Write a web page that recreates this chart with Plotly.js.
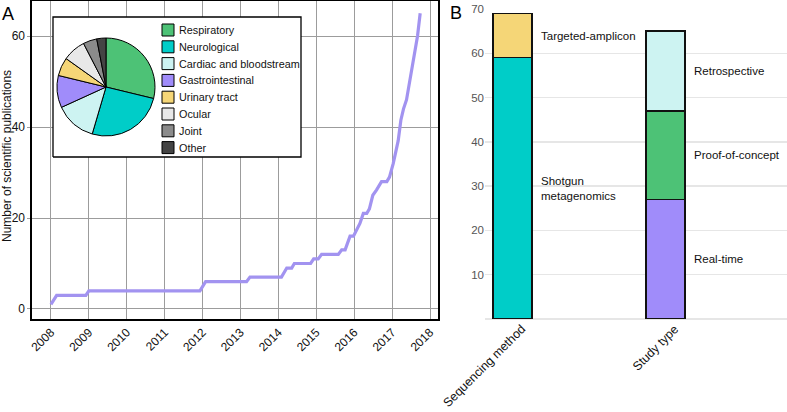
<!DOCTYPE html>
<html><head><meta charset="utf-8">
<script src="https://cdn.plot.ly/plotly-3.0.1.min.js"></script>
<style>html,body{margin:0;padding:0;background:#fff}#chart{width:787px;height:412px}</style>
</head><body><div id="chart"></div>
<script>
// ---- Panel A: cumulative publications ----
const pubYears  = [2008.0, 2008.15, 2008.92, 2009.0, 2011.93, 2012.08, 2013.16, 2013.25, 2014.08, 2014.22, 2014.35, 2014.42, 2014.85, 2014.93, 2015.05, 2015.14, 2015.58, 2015.67, 2015.76, 2015.89, 2015.98, 2016.07, 2016.15, 2016.24, 2016.33, 2016.40, 2016.49, 2016.59, 2016.72, 2016.86, 2016.93, 2017.03, 2017.16, 2017.23, 2017.30, 2017.38, 2017.52, 2017.60, 2017.67, 2017.74];
const pubCounts = [1, 3, 3, 4, 4, 6, 6, 7, 7, 9, 9, 10, 10, 11, 11, 12, 12, 13, 13, 16, 16, 17.7, 18.8, 21, 21, 22, 25, 26.2, 28, 28, 29, 32, 37, 41.5, 44, 46, 53, 57, 60, 65];
const yearTicks = [2008, 2009, 2010, 2011, 2012, 2013, 2014, 2015, 2016, 2017, 2018];
const countTicks = [0, 20, 40, 60];

// ---- Panel A inset pie ----
const pieLabels = ['Respiratory', 'Neurological', 'Cardiac and bloodstream', 'Gastrointestinal', 'Urinary tract', 'Ocular', 'Joint', 'Other'];
const pieValues = [19, 17, 9, 7, 4, 5, 3, 2];
const pieColors = ['#4dc276', '#00cdc8', '#cdf3f2', '#a08cfa', '#f5d677', '#e8e8e8', '#8b8b8b', '#444444'];

// ---- Panel B: stacked bars ----
const barCategories = ['Sequencing method', 'Study type'];
const seqLabels = ['Shotgun<br>metagenomics', 'Targeted-amplicon'];
const seqValues = [59, 10];
const seqColors = ['#00cdc8', '#f5d677'];
const studyLabels = ['Real-time', 'Proof-of-concept', 'Retrospective'];
const studyValues = [27, 20, 18];
const studyColors = ['#a08cfa', '#4dc276', '#cdf3f2'];
const barTicks = [10, 20, 30, 40, 50, 60, 70];

const W = 787, H = 412;
const px = v => v / W;
const py = v => 1 - v / H;
const FONT = 'Liberation Sans, Arial, Helvetica, sans-serif';

// panel A axis geometry (pixels) and ranges
const AX = {left: 32, right: 438, top: 1, bottom: 319, x0: 2007.5, x1: 2018.21, y0: -2.2, y1: 67.7};
const pxToX = p => AX.x0 + (p - AX.left) / (AX.right - AX.left) * (AX.x1 - AX.x0);
const pxToY = p => AX.y0 + (AX.bottom - p) / (AX.bottom - AX.top) * (AX.y1 - AX.y0);

const traces = [];
// white framed inset box (sits above the grid, below the pie)
const bx0 = pxToX(53), bx1 = pxToX(301), by0 = pxToY(157), by1 = pxToY(17);
traces.push({
  type: 'scatter', mode: 'lines', x: [bx0, bx1, bx1, bx0, bx0], y: [by0, by0, by1, by1, by0],
  xaxis: 'x', yaxis: 'y', fill: 'toself', fillcolor: '#fff',
  line: {color: '#000', width: 1.3}, showlegend: false, hoverinfo: 'skip'
});
traces.push({
  type: 'scatter', mode: 'lines', x: pubYears, y: pubCounts,
  xaxis: 'x', yaxis: 'y',
  line: {color: '#a293f0', width: 3.2}, showlegend: false, hoverinfo: 'x+y'
});
traces.push({
  type: 'pie', labels: pieLabels, values: pieValues, sort: false,
  direction: 'clockwise', rotation: 0, textinfo: 'none', hoverinfo: 'label+value',
  marker: {colors: pieColors, line: {color: '#000', width: 1}},
  domain: {x: [px(57), px(155)], y: [py(136), py(38)]}, showlegend: false
});

const annotations = [];
function addStack(idx, labels, values, colors) {
  let base = 0;
  for (let i = 0; i < values.length; i++) {
    traces.push({
      type: 'bar', x: [idx], y: [values[i]], name: labels[i],
      xaxis: 'x2', yaxis: 'y2', width: 0.255,
      marker: {color: colors[i], line: {color: '#111', width: 1.5}},
      showlegend: false, hoverinfo: 'y+name'
    });
    annotations.push({
      xref: 'x2', yref: 'y2', x: idx + 0.175, y: base + values[i] / 2,
      text: labels[i], showarrow: false, xanchor: 'left', yanchor: 'middle', align: 'left',
      font: {family: FONT, size: 11.5, color: '#111'}
    });
    base += values[i];
  }
}
addStack(0, seqLabels, seqValues, seqColors);
addStack(1, studyLabels, studyValues, studyColors);

// category labels of panel B (rotated)
barCategories.forEach((c, i) => {
  annotations.push({
    xref: 'x2', yref: 'paper', x: i + 0.12, y: py(319),
    text: c, showarrow: false, textangle: -45, xanchor: 'right', yanchor: 'top',
    font: {family: FONT, size: 12.4, color: '#111'}
  });
});

// legend of the inset pie
const shapes = [];
pieLabels.forEach((lab, i) => {
  const cy = 30 + i * 16.8;
  shapes.push({
    type: 'rect', xref: 'paper', yref: 'paper', layer: 'above',
    x0: px(162), x1: px(174), y0: py(cy + 6), y1: py(cy - 6),
    fillcolor: pieColors[i], line: {color: '#000', width: 1}
  });
  annotations.push({
    xref: 'paper', yref: 'paper', x: px(177), y: py(cy), text: lab, showarrow: false,
    xanchor: 'left', yanchor: 'middle', font: {family: FONT, size: 10.8, color: '#111'}
  });
});

// titles and panel letters
annotations.push({
  xref: 'paper', yref: 'paper', x: px(7), y: py(156), text: 'Number of scientific publications',
  textangle: -90, showarrow: false, xanchor: 'center', yanchor: 'middle',
  font: {family: FONT, size: 12, color: '#111'}
});
annotations.push({xref: 'paper', yref: 'paper', x: px(8), y: py(14), text: 'A', showarrow: false,
  xanchor: 'center', yanchor: 'middle', font: {family: FONT, size: 18, color: '#000'}});
annotations.push({xref: 'paper', yref: 'paper', x: px(456), y: py(13), text: 'B', showarrow: false,
  xanchor: 'center', yanchor: 'middle', font: {family: FONT, size: 18, color: '#000'}});

const layout = {
  width: W, height: H, margin: {l: 0, r: 0, t: 0, b: 0},
  paper_bgcolor: '#fff', plot_bgcolor: '#fff',
  font: {family: FONT, size: 12, color: '#111'},
  barmode: 'stack', showlegend: false,
  xaxis: {
    domain: [px(AX.left), px(AX.right)], range: [AX.x0, AX.x1], anchor: 'y',
    tickvals: yearTicks, ticktext: yearTicks.map(String), tickangle: -45,
    showgrid: true, gridcolor: '#9c9c9c', gridwidth: 1, zeroline: false,
    showline: true, mirror: true, linecolor: '#000', linewidth: 1.6,
    ticks: '', tickfont: {size: 12, color: '#111'}, fixedrange: true
  },
  yaxis: {
    domain: [py(AX.bottom), py(AX.top)], range: [AX.y0, AX.y1], anchor: 'x',
    tickvals: countTicks, showgrid: true, gridcolor: '#9c9c9c', gridwidth: 1, zeroline: false,
    showline: true, mirror: true, linecolor: '#000', linewidth: 1.6,
    ticks: 'outside', ticklen: 3, tickcolor: '#9c9c9c', tickfont: {size: 12, color: '#111'}, fixedrange: true
  },
  xaxis2: {
    domain: [px(485), 1], range: [-0.18, 1.794], anchor: 'y2',
    showticklabels: false, showgrid: false, zeroline: false, showline: false, ticks: '', fixedrange: true
  },
  yaxis2: {
    domain: [py(319), py(9)], range: [0, 70], anchor: 'x2',
    tickvals: barTicks, showgrid: true, gridcolor: '#e6e6e6', gridwidth: 1.5,
    zeroline: true, zerolinecolor: '#e6e6e6', zerolinewidth: 1.5, showline: false, ticks: '',
    tickfont: {size: 11.5, color: '#555'}, fixedrange: true
  },
  shapes: shapes, annotations: annotations
};

Plotly.newPlot('chart', traces, layout, {displayModeBar: false, staticPlot: true});
</script>
</body></html>
